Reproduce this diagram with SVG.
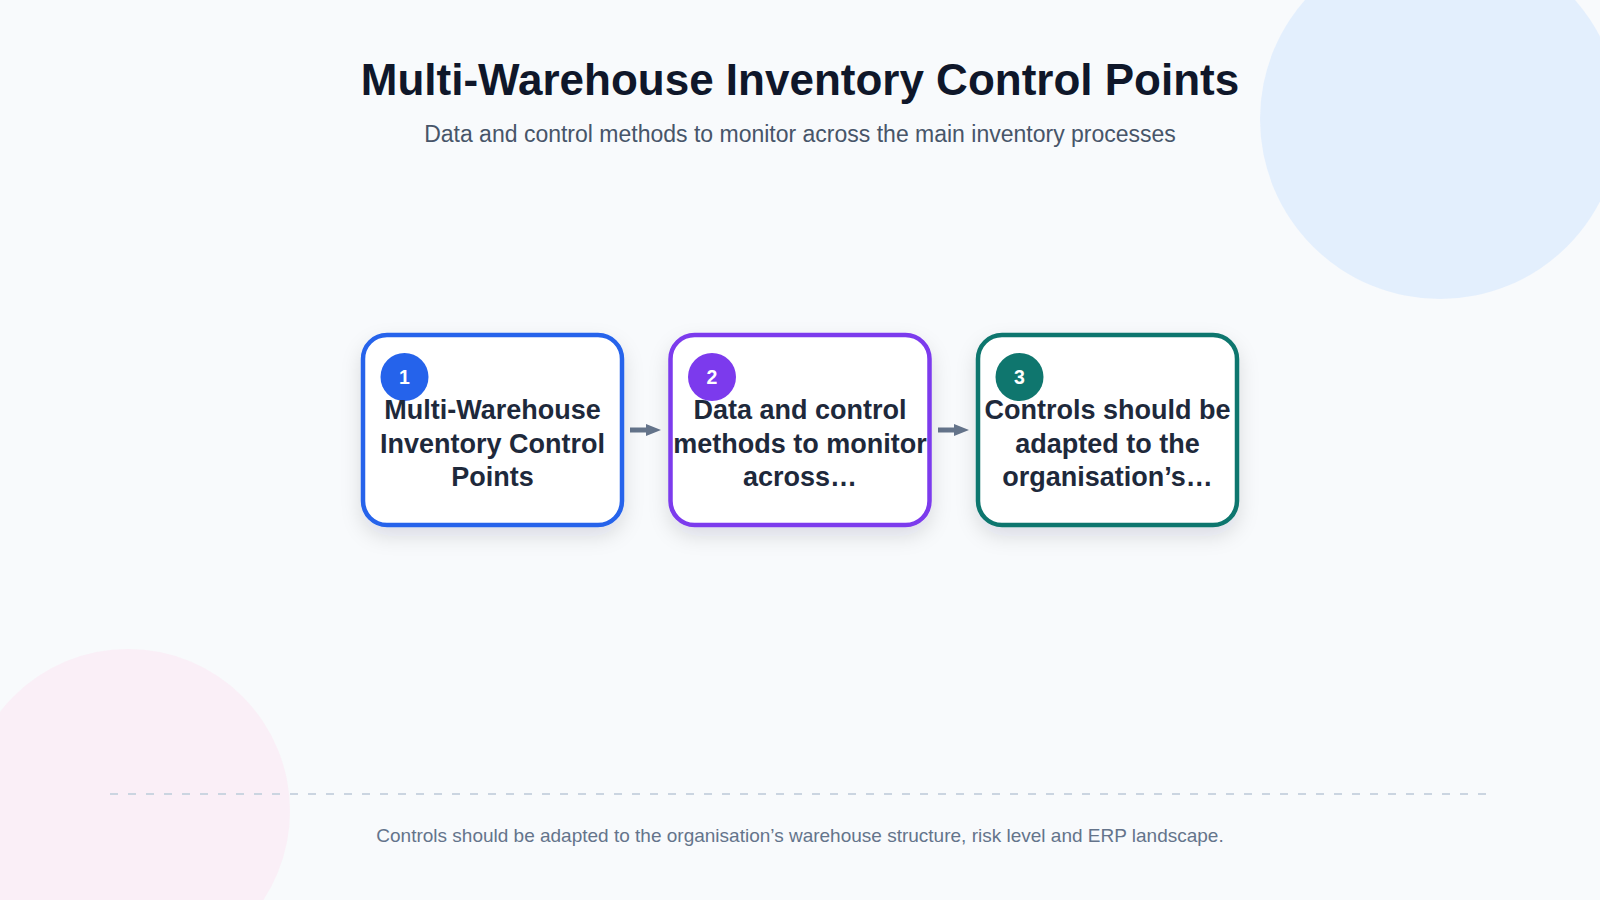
<svg xmlns="http://www.w3.org/2000/svg" width="1600" height="900" viewBox="0 0 1600 900">
  <defs>
    <style>
      .title { font-family: "Liberation Sans", Arial, sans-serif; font-weight: 700; font-size: 44px; fill: #0f172a; text-anchor: middle; }
      .subtitle { font-family: "Liberation Sans", Arial, sans-serif; font-size: 23px; fill: #475569; text-anchor: middle; }
      .footer { font-family: "Liberation Sans", Arial, sans-serif; font-size: 19px; fill: #64748b; text-anchor: middle; }
      .card { fill: #ffffff; stroke-width: 4.5; }
      .label { font-family: "Liberation Sans", Arial, sans-serif; font-weight: 700; font-size: 27px; fill: #1e293b; text-anchor: middle; }
      .badge-num { font-family: "Liberation Sans", Arial, sans-serif; font-weight: 700; font-size: 19.5px; fill: #ffffff; text-anchor: middle; }
      .conn { stroke: #64748b; stroke-width: 5; fill: none; }
    </style>
    <filter id="shadow" x="-20%" y="-20%" width="140%" height="150%">
      <feDropShadow dx="0" dy="9" stdDeviation="10" flood-color="#0f172a" flood-opacity="0.12"/>
    </filter>
    <marker id="arrow" markerUnits="userSpaceOnUse" markerWidth="15" markerHeight="12" refX="0" refY="6" orient="auto">
      <path d="M0,0 L15,6 L0,12 Z" fill="#64748b"/>
    </marker>
  </defs>

  <rect x="0" y="0" width="1600" height="900" fill="#f8fafc"/>
  <circle cx="1440" cy="119" r="180" fill="#dbeafe" opacity="0.72"/>
  <circle cx="128" cy="811" r="162" fill="#fce7f3" opacity="0.6"/>

  <text class="title" x="800" y="95">Multi-Warehouse Inventory Control Points</text>
  <text class="subtitle" x="800" y="142">Data and control methods to monitor across the main inventory processes</text>

  <g id="connectors">
    <line class="conn" x1="630" y1="430" x2="646" y2="430" marker-end="url(#arrow)"/>
    <line class="conn" x1="938" y1="430" x2="954" y2="430" marker-end="url(#arrow)"/>
  </g>

  <g id="node1">
    <rect class="card" x="363" y="335" width="259" height="190" rx="24" stroke="#2563eb" filter="url(#shadow)"/>
    <circle cx="404.5" cy="377" r="24" fill="#2563eb"/>
    <text class="badge-num" x="404.5" y="384">1</text>
    <text class="label" x="492.5" y="419">Multi-Warehouse</text>
    <text class="label" x="492.5" y="452.5">Inventory Control</text>
    <text class="label" x="492.5" y="486">Points</text>
  </g>

  <g id="node2">
    <rect class="card" x="670.5" y="335" width="259" height="190" rx="24" stroke="#7c3aed" filter="url(#shadow)"/>
    <circle cx="712" cy="377" r="24" fill="#7c3aed"/>
    <text class="badge-num" x="712" y="384">2</text>
    <text class="label" x="800" y="419">Data and control</text>
    <text class="label" x="800" y="452.5">methods to monitor</text>
    <text class="label" x="800" y="486">across…</text>
  </g>

  <g id="node3">
    <rect class="card" x="978" y="335" width="259" height="190" rx="24" stroke="#0f766e" filter="url(#shadow)"/>
    <circle cx="1019.5" cy="377" r="24" fill="#0f766e"/>
    <text class="badge-num" x="1019.5" y="384">3</text>
    <text class="label" x="1107.5" y="419">Controls should be</text>
    <text class="label" x="1107.5" y="452.5">adapted to the</text>
    <text class="label" x="1107.5" y="486">organisation’s…</text>
  </g>

  <line x1="110" y1="794" x2="1490" y2="794" stroke="#cbd5e1" stroke-width="2" stroke-dasharray="8 10"/>
  <text class="footer" x="800" y="842">Controls should be adapted to the organisation’s warehouse structure, risk level and ERP landscape.</text>
</svg>
